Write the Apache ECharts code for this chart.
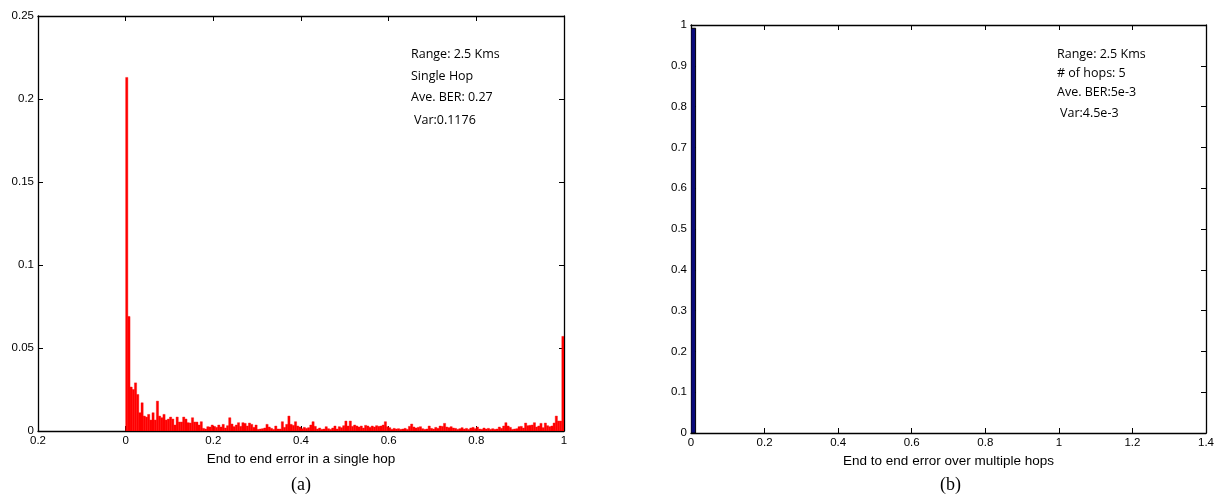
<!DOCTYPE html>
<html>
<head>
<meta charset="utf-8">
<style>
html,body{margin:0;padding:0;background:#fff;}
#chart{width:1217px;height:502px;}
</style>
<script src="https://cdn.jsdelivr.net/npm/echarts@6/dist/echarts.min.js"></script>
</head>
<body>
<div id="chart"></div>
<script>
// ---- Data ----
// (a) Single hop histogram: 200 bins of width 0.005 from 0 to 1
const singleHopBinWidth = 0.005;
const singleHopValues = [
  0.213, 0.069, 0.0265, 0.025, 0.029, 0.022, 0.011, 0.017, 0.009, 0.0084,
  0.010, 0.0066, 0.011, 0.0066, 0.018, 0.009, 0.008, 0.010, 0.0066, 0.0072,
  0.0084, 0.0072, 0.0036, 0.0084, 0.0054, 0.0054, 0.0084, 0.0072, 0.005, 0.0048,
  0.008, 0.0054, 0.0054, 0.0036, 0.0056, 0.0016, 0.0012, 0.0026, 0.0024, 0.0036,
  0.0028, 0.0022, 0.0036, 0.0024, 0.004, 0.0018, 0.0032, 0.008, 0.0042, 0.0026,
  0.0036, 0.005, 0.0028, 0.005, 0.0046, 0.0030, 0.0048, 0.0040, 0.0022, 0.0036,
  0.0010, 0.0012, 0.0014, 0.0018, 0.0040, 0.0024, 0.0016, 0.0010, 0.0030, 0.0012,
  0.0012, 0.0056, 0.0022, 0.0040, 0.009, 0.0040, 0.0034, 0.0056, 0.0030, 0.0024,
  0.0014, 0.0022, 0.0016, 0.0020, 0.0036, 0.0056, 0.0028, 0.0012, 0.0018, 0.0010,
  0.0012, 0.0026, 0.0014, 0.0010, 0.0018, 0.0030, 0.0012, 0.0026, 0.0020, 0.0032,
  0.006, 0.0030, 0.006, 0.0028, 0.0036, 0.0030, 0.0024, 0.0030, 0.0018, 0.0034,
  0.0030, 0.0022, 0.0030, 0.0024, 0.0032, 0.0028, 0.0030, 0.0036, 0.0056, 0.0026,
  0.0020, 0.0010, 0.0016, 0.0012, 0.0014, 0.0010, 0.0012, 0.0016, 0.0010, 0.0028,
  0.0042, 0.0024, 0.0018, 0.0022, 0.0026, 0.0014, 0.0010, 0.0012, 0.0030, 0.0016,
  0.0012, 0.0022, 0.0016, 0.0030, 0.0028, 0.0046, 0.0024, 0.0020, 0.0026, 0.0018,
  0.0016, 0.0010, 0.0014, 0.0020, 0.0012, 0.0016, 0.0010, 0.0018, 0.0022, 0.0014,
  0.0024, 0.0012, 0.0010, 0.0018, 0.0012, 0.0016, 0.0010, 0.0014, 0.0010, 0.0012,
  0.0024, 0.0016, 0.0030, 0.005, 0.0030, 0.0022, 0.0010, 0.0012, 0.0014, 0.0026,
  0.0028, 0.0018, 0.0048, 0.0032, 0.0034, 0.0036, 0.0050, 0.0024, 0.0030, 0.0046,
  0.0020, 0.0048, 0.0032, 0.0026, 0.0030, 0.0048, 0.009, 0.006, 0.006, 0.057
];
// (b) Multiple hops histogram
const multiHopBinStart = [0];
const multiHopBinEnd = [0.0125];
const multiHopValues = [0.992];

// tick labels
const xTickLabelsA = ['0.2', '0', '0.2', '0.4', '0.6', '0.8', '1'];
const yTickLabelsA = ['0', '0.05', '0.1', '0.15', '0.2', '0.25'];
const xTickLabelsB = ['0', '0.2', '0.4', '0.6', '0.8', '1', '1.2', '1.4'];
const yTickLabelsB = ['0', '0.1', '0.2', '0.3', '0.4', '0.5', '0.6', '0.7', '0.8', '0.9', '1'];

const notesA = ['Range: 2.5 Kms', 'Single Hop', 'Ave. BER: 0.27', ' Var:0.1176'];
const notesB = ['Range: 2.5 Kms', '# of hops: 5', 'Ave. BER:5e-3', ' Var:4.5e-3'];
const xNameA = 'End to end error in a single hop';
const xNameB = 'End to end error over multiple hops';

// ---- Build chart ----
const dataA = singleHopValues.map((v, i) => [i * singleHopBinWidth, (i + 1) * singleHopBinWidth, v]);
const dataB = multiHopValues.map((v, i) => [multiHopBinStart[i], multiHopBinEnd[i], v]);

const FONT = '"Liberation Sans", Arial, Helvetica, sans-serif';
const axisColor = '#000';

function idxLabel(labels, min, step) {
  return function (v) {
    const i = Math.round((v - min) / step);
    return labels[i] !== undefined ? labels[i] : '';
  };
}

function makeAxes(gridIndex, xmin, xmax, xint, ymin, ymax, yint, xLabels, yLabels, xName) {
  const tick = { show: true, inside: true, length: 5, lineStyle: { color: axisColor, width: 1 } };
  const line = { show: true, onZero: false, lineStyle: { color: axisColor, width: 1.3 } };
  const xs = [
    {
      type: 'value', gridIndex, min: xmin, max: xmax, interval: xint, position: 'bottom',
      axisLine: line, axisTick: tick, splitLine: { show: false },
      axisLabel: { formatter: idxLabel(xLabels, xmin, xint), color: '#000', fontSize: 11.5, fontFamily: FONT, margin: 4 },
      name: xName, nameLocation: 'middle', nameGap: 19,
      nameTextStyle: { color: '#000', fontSize: 13.5, fontFamily: FONT }
    },
    {
      type: 'value', gridIndex, min: xmin, max: xmax, interval: xint, position: 'top',
      axisLine: line, axisTick: tick, splitLine: { show: false }, axisLabel: { show: false }
    }
  ];
  const ys = [
    {
      type: 'value', gridIndex, min: ymin, max: ymax, interval: yint, position: 'left',
      axisLine: line, axisTick: tick, splitLine: { show: false },
      axisLabel: { formatter: idxLabel(yLabels, ymin, yint), color: '#000', fontSize: 11.5, fontFamily: FONT, margin: 4 }
    },
    {
      type: 'value', gridIndex, min: ymin, max: ymax, interval: yint, position: 'right',
      axisLine: line, axisTick: tick, splitLine: { show: false }, axisLabel: { show: false }
    }
  ];
  return { xs, ys };
}

const axA = makeAxes(0, -0.2, 1, 0.2, 0, 0.25, 0.05, xTickLabelsA, yTickLabelsA, xNameA);
const axB = makeAxes(1, 0, 1.4, 0.2, 0, 1, 0.1, xTickLabelsB, yTickLabelsB, xNameB);

function histRender(fill, stroke, lw) {
  return function (params, api) {
    const p0 = api.coord([api.value(0), api.value(2)]);
    const p1 = api.coord([api.value(1), 0]);
    return {
      type: 'rect',
      shape: { x: p0[0], y: p0[1], width: p1[0] - p0[0], height: p1[1] - p0[1] },
      style: { fill: fill, stroke: stroke, lineWidth: lw }
    };
  };
}

function notes(lines, x, ys) {
  return lines.map((t, i) => ({
    type: 'text', left: x + (t.startsWith(' ') ? 3 : 0), top: ys[i] - 8,
    style: { text: t.trim(), fill: '#000', font: '12.5px "Open Sans", "Noto Sans", sans-serif' }
  }));
}

const option = {
  animation: false,
  backgroundColor: '#fff',
  grid: [
    { left: 38, top: 16, width: 526, height: 415, containLabel: false },
    { left: 691, top: 25, width: 517, height: 408, containLabel: false }
  ],
  xAxis: [...axA.xs, ...axB.xs],
  yAxis: [...axA.ys, ...axB.ys],
  series: [
    {
      type: 'custom', xAxisIndex: 0, yAxisIndex: 0, data: dataA,
      encode: { x: [0, 1], y: 2 }, renderItem: histRender('#ff0000', '#ff0000', 0.4), clip: true
    },
    {
      type: 'custom', xAxisIndex: 2, yAxisIndex: 2, data: dataB,
      encode: { x: [0, 1], y: 2 }, renderItem: histRender('#0a0a7a', '#000', 1), clip: true
    }
  ],
  graphic: [
    ...notes(notesA, 411, [56, 78, 99, 122]),
    ...notes(notesB, 1057, [56, 75, 94, 115]),
    { type: 'text', left: 291, top: 476, style: { text: '(a)', fill: '#000', font: '18px "Liberation Serif", "Times New Roman", serif' } },
    { type: 'text', left: 940, top: 476, style: { text: '(b)', fill: '#000', font: '18px "Liberation Serif", "Times New Roman", serif' } }
  ]
};

const chart = echarts.init(document.getElementById('chart'), null, { renderer: 'canvas' });
chart.setOption(option);
</script>
</body>
</html>
